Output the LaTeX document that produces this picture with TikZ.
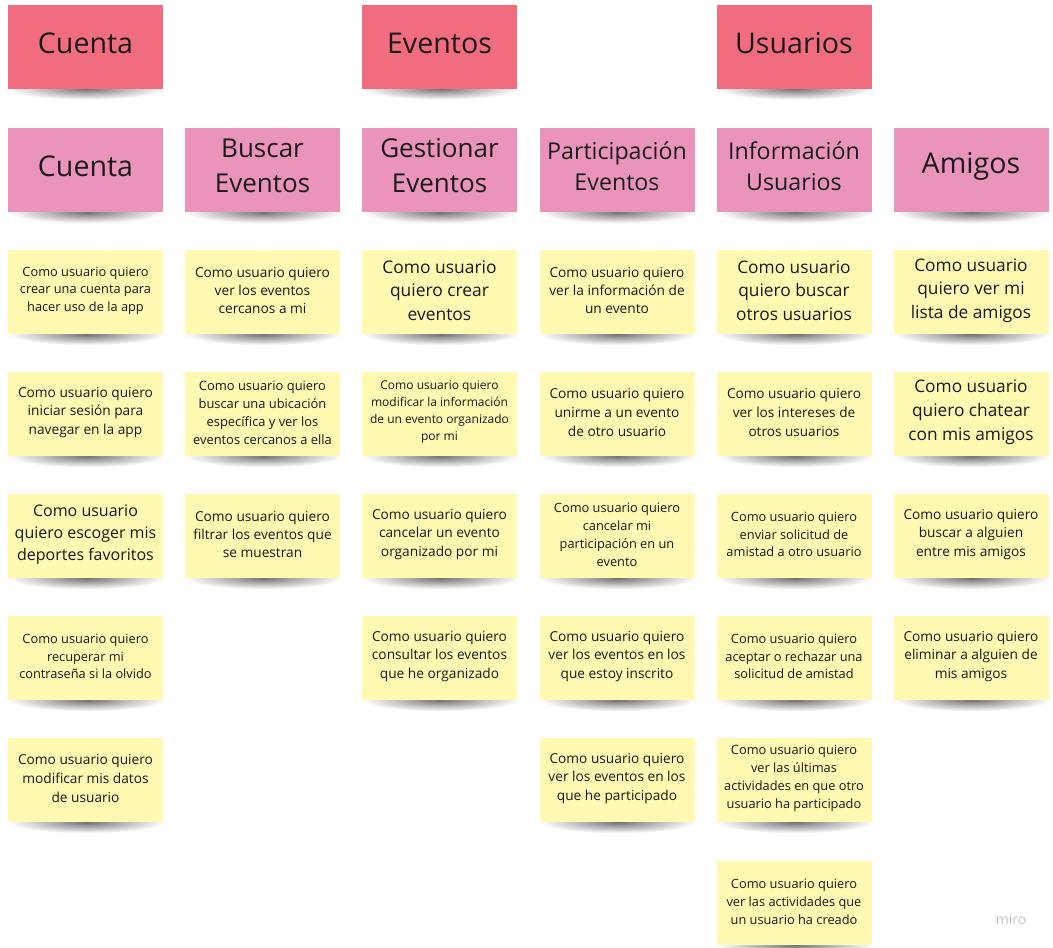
\documentclass[tikz,border=0pt]{standalone}
\usepackage{fontspec}
\setmainfont{Open Sans}
\usetikzlibrary{backgrounds}
\definecolor{redS}{HTML}{F16C7F}
\definecolor{pinkS}{HTML}{EA94BB}
\definecolor{yelS}{HTML}{FFF9B1}
\definecolor{txt}{HTML}{1A1A1A}
\definecolor{miroG}{HTML}{C4C4C4}
\colorlet{shd}{black!55}
\tikzset{
  sticky/.style={minimum width=155pt, minimum height=84pt, inner sep=0pt},
  hdr/.style={sticky, fill=redS},
  sub/.style={sticky, fill=pinkS},
  story/.style={sticky, fill=yelS},
  stxt/.style={align=center, text=txt, inner sep=0pt},
  fz/.style 2 args={font=\fontsize{#1}{#2}\selectfont},
  softshadow/.style={inner color=shd, outer color=white},
}
% \stk{name}{style}{x,y}{font size}{line skip}{raise}{text}
\newcommand\stk[7]{%
  \node[#2] (#1) at (#3) {};
  \begin{scope}[on background layer]
    \shade[softshadow] ([xshift=1pt]#1.south) ellipse (78pt and 11pt);
  \end{scope}
  \node[stxt, fz={#4}{#5}] (#1-t) at ([yshift=#6pt]#1.center) {#7};}
\begin{document}
\begin{tikzpicture}[x=1pt,y=-1pt]
\begin{scope}[on background layer]
\fill[white] (0,0) rectangle (1053,948);
\end{scope}
\useasboundingbox (0,0) rectangle (1053,948);
% top headers
\stk{hCuenta}{hdr}{85.5,46.5}{28.6}{38}{3.5}{Cuenta}
\stk{hEventos}{hdr}{439.5,46.5}{28.6}{38}{3.5}{Eventos}
\stk{hUsuarios}{hdr}{794,46.5}{28.6}{38}{3.5}{Usuarios}
% sub headers
\stk{sCuenta}{sub}{85.5,170}{28.6}{38}{4}{Cuenta}
\stk{sBuscar}{sub}{262.5,170}{26}{35}{4.5}{Buscar\\Eventos}
\stk{sGest}{sub}{439.5,170}{26}{35}{4.5}{Gestionar\\Eventos}
\stk{sPart}{sub}{617,170}{23.2}{31.5}{4}{Participación\\Eventos}
\stk{sInfo}{sub}{794,170}{23.2}{31.5}{4}{Información\\Usuarios}
\stk{sAmigos}{sub}{971,170}{28.6}{38}{4}{Amigos}
% column 1
\stk{c1a}{story}{85.5,292}{12.8}{17.4}{1.5}{Como usuario quiero\\crear una cuenta para\\hacer uso de la app}
\stk{c1b}{story}{85.5,414}{13.7}{18.8}{1.5}{Como usuario quiero\\iniciar sesión para\\navegar en la app}
\stk{c1c}{story}{85.5,536}{16}{21.6}{1.5}{Como usuario\\quiero escoger mis\\deportes favoritos}
\stk{c1d}{story}{85.5,658}{12.8}{17.4}{1.5}{Como usuario quiero\\recuperar mi\\contraseña si la olvido}
\stk{c1e}{story}{85.5,780}{13.7}{18.8}{1.5}{Como usuario quiero\\modificar mis datos\\de usuario}
% column 2
\stk{c2a}{story}{262.5,292}{13.7}{18.2}{1.5}{Como usuario quiero\\ver los eventos\\cercanos a mi}
\stk{c2b}{story}{262.5,414}{12.9}{18}{1.5}{Como usuario quiero\\buscar una ubicación\\específica y ver los\\eventos cercanos a ella}
\stk{c2c}{story}{262.5,536}{13.7}{18.2}{1.5}{Como usuario quiero\\filtrar los eventos que\\se muestran}
% column 3
\stk{c3a}{story}{439.5,292}{17.4}{23.5}{1.5}{Como usuario\\quiero crear\\eventos}
\stk{c3b}{story}{439.5,414}{12}{17}{1.5}{Como usuario quiero\\modificar la información\\de un evento organizado\\por mi}
\stk{c3c}{story}{439.5,536}{13.7}{18.5}{1.5}{Como usuario quiero\\cancelar un evento\\organizado por mi}
\stk{c3d}{story}{439.5,658}{13.7}{18.5}{1.5}{Como usuario quiero\\consultar los eventos\\que he organizado}
% column 4
\stk{c4a}{story}{617,292}{13.7}{18.2}{1.5}{Como usuario quiero\\ver la información de\\un evento}
\stk{c4b}{story}{617,414}{13.7}{18.8}{1.5}{Como usuario quiero\\unirme a un evento\\de otro usuario}
\stk{c4c}{story}{617,536}{12.8}{18}{1.5}{Como usuario quiero\\cancelar mi\\participación en un\\evento}
\stk{c4d}{story}{617,658}{13.7}{18.5}{1.5}{Como usuario quiero\\ver los eventos en los\\que estoy inscrito}
\stk{c4e}{story}{617,780}{13.7}{18.8}{1.5}{Como usuario quiero\\ver los eventos en los\\que he participado}
% column 5
\stk{c5a}{story}{794,292}{17.3}{23.5}{1.5}{Como usuario\\quiero buscar\\otros usuarios}
\stk{c5b}{story}{794,414}{13.6}{18.8}{1.5}{Como usuario quiero\\ver los intereses de\\otros usuarios}
\stk{c5c}{story}{794,536}{12.8}{17.6}{1.5}{Como usuario quiero\\enviar solicitud de\\amistad a otro usuario}
\stk{c5d}{story}{794,658}{12.8}{17.6}{1.5}{Como usuario quiero\\aceptar o rechazar una\\solicitud de amistad}
\stk{c5e}{story}{794,780}{12.8}{18}{1.5}{Como usuario quiero\\ver las últimas\\actividades en que otro\\usuario ha participado}
\stk{c5f}{story}{794,903}{12.8}{18}{1.5}{Como usuario quiero\\ver las actividades que\\un usuario ha creado}
% column 6
\stk{c6a}{story}{971,292}{17.3}{23.5}{1.5}{Como usuario\\quiero ver mi\\lista de amigos}
\stk{c6b}{story}{971,414}{17.3}{24}{1.5}{Como usuario\\quiero chatear\\con mis amigos}
\stk{c6c}{story}{971,536}{13.7}{18.2}{1.5}{Como usuario quiero\\buscar a alguien\\entre mis amigos}
\stk{c6d}{story}{971,658}{13.7}{18.5}{1.5}{Como usuario quiero\\eliminar a alguien de\\mis amigos}
% watermark
\node[text=miroG, font=\fontsize{14}{16}\selectfont] (miro) at (1011,919) {miro};
\end{tikzpicture}
\end{document}
